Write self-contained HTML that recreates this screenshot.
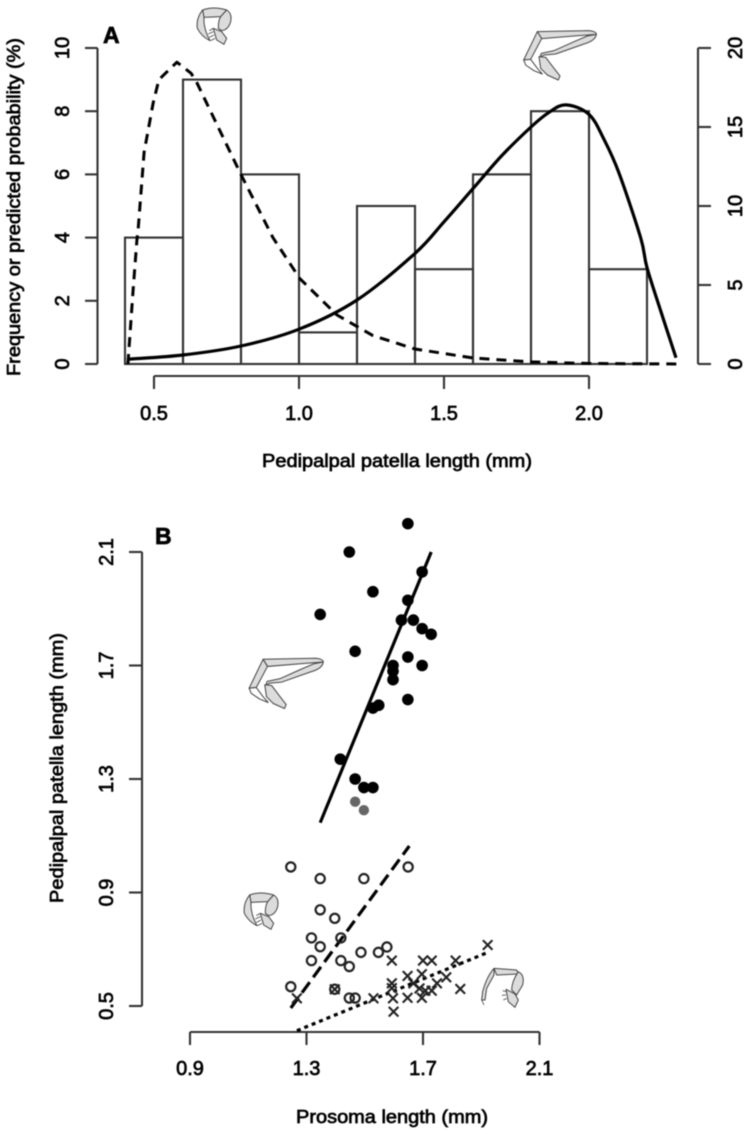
<!DOCTYPE html>
<html lang="en">
<head>
<meta charset="utf-8">
<title>Pedipalpal patella length charts</title>
<style>
html,body{margin:0;padding:0;background:#fff;}
svg{display:block;filter:blur(0.45px);}
text{font-family:"Liberation Sans",sans-serif;fill:#000;stroke:#000;stroke-width:.7px;}
.tick{font-size:20px;}
.title{font-size:18.5px;}
.panel{font-size:23px;font-weight:bold;fill:#000;stroke:#000;}
.ax{stroke:#333;stroke-width:2.1;fill:none;}
.bar{stroke:#333;stroke-width:2.1;fill:none;}
.leg{fill:#dcdcdc;stroke:#444;stroke-width:3;stroke-linejoin:round;}
.hair{fill:none;stroke:#444;stroke-width:2.5;}
</style>
</head>
<body>
<svg id="fig" xmlns="http://www.w3.org/2000/svg" width="748" height="1134" viewBox="0 0 748 1134">
  <rect width="748" height="1134" fill="#fff"/>

  <g id="panelA"></g>
  <g id="panelB"></g>

  <text class="panel" x="103" y="43">A</text>
  <text class="panel" x="155" y="544">B</text>

  <text class="title" x="262" y="467" textLength="270" lengthAdjust="spacingAndGlyphs">Pedipalpal patella length (mm)</text>
  <text class="title" transform="translate(20,376) rotate(-90)" textLength="338" lengthAdjust="spacingAndGlyphs">Frequency or predicted probability (%)</text>
  <text class="title" x="296" y="1123" textLength="192" lengthAdjust="spacingAndGlyphs">Prosoma length (mm)</text>
  <text class="title" transform="translate(63,903) rotate(-90)" textLength="270" lengthAdjust="spacingAndGlyphs">Pedipalpal patella length (mm)</text>

  <g transform="scale(.3333)">
    <path class="leg" d="M608,30 Q640,18 680,30 L662,50 L612,52 Z"/>
    <path class="leg" d="M680,30 Q697,40 692,65 Q685,90 665,92 L655,85 Q655,60 662,50 Z"/>
    <path class="leg" d="M608,30 L612,52 Q610,85 630,122 Q605,110 592,85 Q588,55 608,30 Z"/>
    <path class="leg" d="M640,85 L665,95 L680,115 L672,133 L650,120 Z"/>
    <path class="hair" d="M640,85 L628,92 M640,95 L625,102 M642,105 L628,112 M645,115 L632,122"/>
  </g>
  <g transform="translate(374,0) scale(.3333)">
    <path class="leg" d="M490,95 L645,92 Q668,95 667,103 L600,108 L503,116 Z"/>
    <path class="leg" d="M667,103 Q665,122 630,132 L545,162 L510,165 L498,172 L502,160 L540,152 L600,125 L640,108 Z"/>
    <path class="leg" d="M490,95 L503,116 L470,178 L449,180 Z"/>
    <path class="leg" style="fill:#fff" d="M449,180 L470,178 L490,205 L505,222 L480,212 L455,195 Z"/>
    <path class="leg" d="M495,170 L515,172 L540,205 L558,228 L553,240 L520,225 L500,205 Z"/>
  </g>
  <g transform="translate(-285,627) scale(1.02) translate(374,0) scale(.3333)">
    <path class="leg" d="M490,95 L645,92 Q668,95 667,103 L600,108 L503,116 Z"/>
    <path class="leg" d="M667,103 Q665,122 630,132 L545,162 L510,165 L498,172 L502,160 L540,152 L600,125 L640,108 Z"/>
    <path class="leg" d="M490,95 L503,116 L470,178 L449,180 Z"/>
    <path class="leg" style="fill:#fff" d="M449,180 L470,178 L490,205 L505,222 L480,212 L455,195 Z"/>
    <path class="leg" d="M495,170 L515,172 L540,205 L558,228 L553,240 L520,225 L500,205 Z"/>
  </g>
  <g transform="translate(47,885) scale(.3333)">
    <path class="leg" d="M608,30 Q640,18 680,30 L662,50 L612,52 Z"/>
    <path class="leg" d="M680,30 Q697,40 692,65 Q685,90 665,92 L655,85 Q655,60 662,50 Z"/>
    <path class="leg" d="M608,30 L612,52 Q610,85 630,122 Q605,110 592,85 Q588,55 608,30 Z"/>
    <path class="leg" d="M640,85 L665,95 L680,115 L672,133 L650,120 Z"/>
    <path class="hair" d="M640,85 L628,92 M640,95 L625,102 M642,105 L628,112 M645,115 L632,122"/>
  </g>
  <g transform="translate(370,920) scale(.3333)">
    <path class="leg" d="M372,145 Q350,170 338,215 L335,240 L345,240 L350,205 L372,165 Z"/>
    <path class="leg" d="M372,145 L440,150 L445,162 L380,165 Z"/>
    <path class="leg" d="M445,155 Q465,165 458,195 L440,225 L425,210 Q425,185 445,155 Z"/>
    <path class="leg" d="M408,208 L435,222 L445,240 L435,262 L415,245 Z"/>
    <path class="hair" d="M335,240 L342,255 M408,215 L398,212 M408,225 L396,226 M410,235 L400,240"/>
  </g>
</svg>

<script>
// Panel A data
const binStart = 0.4;
const binWidth = 0.2;
const binCounts = [4, 9, 6, 1, 5, 3, 6, 8, 3];
const solidLengths = [0.41, 0.6, 0.8, 1.0, 1.2, 1.4, 1.5, 1.6, 1.7, 1.8, 1.86, 1.92, 2.0, 2.052, 2.103, 2.178, 2.2, 2.25, 2.3];
const solidProbability = [0.3, 0.57, 1.14, 2.2, 4.05, 7.0, 9.0, 11.1, 13.2, 15.0, 15.9, 16.4, 15.8, 14.2, 12.1, 8.0, 6.1, 3.2, 0.4];
const dashedLengths = [0.41, 0.428, 0.441, 0.445, 0.466, 0.497, 0.517, 0.579, 0.628, 0.648, 0.797, 0.91, 1.003, 1.131, 1.255, 1.4, 1.6, 1.8, 2.0, 2.31];
const dashedProbability = [0, 4.68, 7.85, 8.48, 13.4, 16.5, 18.0, 19.1, 18.4, 17.8, 12.1, 8.0, 5.4, 3.1, 1.8, 0.95, 0.38, 0.13, 0.03, 0];
const aXTicks = ["0.5", "1.0", "1.5", "2.0"];
const aLeftTicks = ["0", "2", "4", "6", "8", "10"];
const aRightTicks = ["0", "5", "10", "15", "20"];

// Panel B data
const bXTicks = ["0.9", "1.3", "1.7", "2.1"];
const bYTicks = ["0.5", "0.9", "1.3", "1.7", "2.1"];
const filledX = [1.648, 1.447, 1.697, 1.528, 1.648, 1.347, 1.626, 1.667, 1.697, 1.728, 1.467, 1.648, 1.697, 1.597, 1.597, 1.597, 1.648, 1.548, 1.528, 1.416, 1.467, 1.497, 1.528];
const filledY = [2.20, 2.10, 2.03, 1.96, 1.93, 1.88, 1.86, 1.86, 1.83, 1.81, 1.75, 1.73, 1.70, 1.70, 1.68, 1.65, 1.58, 1.56, 1.55, 1.37, 1.30, 1.27, 1.27];
const grayX = [1.467, 1.497];
const grayY = [1.22, 1.19];
const openX = [1.246, 1.347, 1.497, 1.649, 1.347, 1.397, 1.418, 1.317, 1.347, 1.487, 1.547, 1.576, 1.317, 1.418, 1.447, 1.246, 1.397, 1.447, 1.467];
const openY = [0.99, 0.949, 0.949, 0.99, 0.839, 0.809, 0.74, 0.74, 0.709, 0.689, 0.689, 0.708, 0.66, 0.66, 0.639, 0.568, 0.559, 0.528, 0.528];
const crossX = [1.922, 1.593, 1.70, 1.73, 1.812, 1.647, 1.696, 1.78, 1.667, 1.593, 1.748, 1.688, 1.828, 1.73, 1.708, 1.593, 1.53, 1.647, 1.696, 1.597, 1.599, 1.267, 1.397];
const crossY = [0.715, 0.66, 0.66, 0.66, 0.66, 0.606, 0.612, 0.601, 0.58, 0.58, 0.58, 0.562, 0.56, 0.554, 0.554, 0.563, 0.527, 0.529, 0.529, 0.527, 0.48, 0.527, 0.559];
const fitSolidX = [1.347, 1.728];
const fitSolidY = [1.146, 2.10];
const fitDashedX = [1.246, 1.653];
const fitDashedY = [0.493, 1.064];
const fitDottedX = [1.267, 1.925];
const fitDottedY = [0.413, 0.69];

const NS = 'http://www.w3.org/2000/svg';
const panelA = document.getElementById('panelA');
const panelB = document.getElementById('panelB');

function make(parent, tag, attrs) {
  const el = document.createElementNS(NS, tag);
  for (const k in attrs) el.setAttribute(k, attrs[k]);
  parent.appendChild(el);
  return el;
}

// axis functions
function ax(v) { return 154 + (v - 0.5) * 290; }
function ayFreq(v) { return 364 - v * 31.6; }
function ayProb(v) { return 364 - v * 15.8; }
function bx(v) { return 190 + (v - 0.9) * 291.25; }
function by(v) { return 1006 - (v - 0.5) * 283.75; }

function line(parent, x1, y1, x2, y2, cls) {
  return make(parent, 'line', { x1: x1, y1: y1, x2: x2, y2: y2, class: cls });
}
function rotatedLabel(parent, x, y, txt) {
  const t = make(parent, 'text', { class: 'tick', 'text-anchor': 'middle', transform: 'translate(' + x + ',' + y + ') rotate(-90)' });
  t.textContent = txt;
  return t;
}
function flatLabel(parent, x, y, txt) {
  const t = make(parent, 'text', { class: 'tick', 'text-anchor': 'middle', x: x, y: y });
  t.textContent = txt;
  return t;
}
function pointsOf(xs, ys, fx, fy) {
  return xs.map(function (x, i) { return fx(x).toFixed(1) + ',' + fy(ys[i]).toFixed(1); }).join(' ');
}
function smoothPath(xs, ys, fx, fy) {
  const p = xs.map(function (x, i) { return [fx(x), fy(ys[i])]; });
  let d = 'M' + p[0][0].toFixed(1) + ',' + p[0][1].toFixed(1);
  for (let i = 0; i < p.length - 1; i++) {
    const a = p[Math.max(i - 1, 0)];
    const b = p[i];
    const c = p[i + 1];
    const e = p[Math.min(i + 2, p.length - 1)];
    const c1x = b[0] + (c[0] - a[0]) / 6;
    const c1y = b[1] + (c[1] - a[1]) / 6;
    const c2x = c[0] - (e[0] - b[0]) / 6;
    const c2y = c[1] - (e[1] - b[1]) / 6;
    d += 'C' + c1x.toFixed(1) + ',' + c1y.toFixed(1) + ' ' + c2x.toFixed(1) + ',' + c2y.toFixed(1) + ' ' + c[0].toFixed(1) + ',' + c[1].toFixed(1);
  }
  return d;
}

// Panel A: histogram bars
binCounts.forEach(function (count, i) {
  const x0 = ax(binStart + i * binWidth);
  const x1 = ax(binStart + (i + 1) * binWidth);
  const bar = make(panelA, 'rect', { class: 'bar', x: x0, y: ayFreq(count), width: x1 - x0, height: ayFreq(0) - ayFreq(count) });
  
  
});

// Panel A: left axis
const aLeftAxis = line(panelA, 97.5, ayFreq(0), 97.5, ayFreq(10), 'ax');


aLeftTicks.forEach(function (lab) {
  const y = ayFreq(Number(lab));
  const tk = line(panelA, 85, y, 97.5, y, 'ax');
  
  
  const t = rotatedLabel(panelA, 69, y, lab);
  
  
});

// Panel A: right axis
const aRightAxis = line(panelA, 698, ayProb(0), 698, ayProb(20), 'ax');


aRightTicks.forEach(function (lab) {
  const y = ayProb(Number(lab));
  const tk = line(panelA, 698, y, 711, y, 'ax');
  
  
  const t = rotatedLabel(panelA, 742, y, lab);
  
  
});

// Panel A: bottom axis
const aBottomAxis = line(panelA, ax(0.5), 376, ax(2.0), 376, 'ax');


aXTicks.forEach(function (lab) {
  const x = ax(Number(lab));
  const tk = line(panelA, x, 376, x, 389, 'ax');
  
  
  const t = flatLabel(panelA, x, 420, lab);
  
  
});

// Panel A: probability curves
const dashedCurve = make(panelA, 'polyline', { points: pointsOf(dashedLengths, dashedProbability, ax, ayProb), fill: 'none', stroke: '#000', 'stroke-width': 3, 'stroke-dasharray': '10 7', 'stroke-linejoin': 'round' });


const solidCurve = make(panelA, 'path', { d: smoothPath(solidLengths, solidProbability, ax, ayProb), fill: 'none', stroke: '#000', 'stroke-width': 3.2, 'stroke-linejoin': 'round' });



// Panel B: axes
const bLeftAxis = line(panelB, 142, by(0.5), 142, by(2.1), 'ax');


bYTicks.forEach(function (lab) {
  const y = by(Number(lab));
  const tk = line(panelB, 129, y, 142, y, 'ax');
  
  
  const t = rotatedLabel(panelB, 113, y, lab);
  
  
});
const bBottomAxis = line(panelB, bx(0.9), 1032, bx(2.1), 1032, 'ax');


bXTicks.forEach(function (lab) {
  const x = bx(Number(lab));
  const tk = line(panelB, x, 1032, x, 1045, 'ax');
  
  
  const t = flatLabel(panelB, x, 1075, lab);
  
  
});

// Panel B: fitted lines
const fitSolid = make(panelB, 'polyline', { points: pointsOf(fitSolidX, fitSolidY, bx, by), fill: 'none', stroke: '#000', 'stroke-width': 3.2 });


const fitDashed = make(panelB, 'polyline', { points: pointsOf(fitDashedX, fitDashedY, bx, by), fill: 'none', stroke: '#000', 'stroke-width': 3.2, 'stroke-dasharray': '13 6' });


const fitDotted = make(panelB, 'polyline', { points: pointsOf(fitDottedX, fitDottedY, bx, by), fill: 'none', stroke: '#000', 'stroke-width': 3.2, 'stroke-dasharray': '4 4' });



// Panel B: points
filledX.forEach(function (x, i) {
  const c = make(panelB, 'circle', { cx: bx(x), cy: by(filledY[i]), r: 5.8, fill: '#000' });
  
  
});
grayX.forEach(function (x, i) {
  const c = make(panelB, 'circle', { cx: bx(x), cy: by(grayY[i]), r: 5.2, fill: '#666' });
  
  
});
openX.forEach(function (x, i) {
  const c = make(panelB, 'circle', { cx: bx(x), cy: by(openY[i]), r: 4.6, fill: 'none', stroke: '#222', 'stroke-width': 2.2 });
  
  
});
crossX.forEach(function (x, i) {
  const px = bx(x);
  const py = by(crossY[i]);
  const h = 4.8;
  const m = make(panelB, 'path', { d: 'M' + (px - h) + ',' + (py - h) + 'L' + (px + h) + ',' + (py + h) + 'M' + (px - h) + ',' + (py + h) + 'L' + (px + h) + ',' + (py - h), fill: 'none', stroke: '#222', 'stroke-width': 2.1 });
  
  
});
</script>
</body>
</html>
